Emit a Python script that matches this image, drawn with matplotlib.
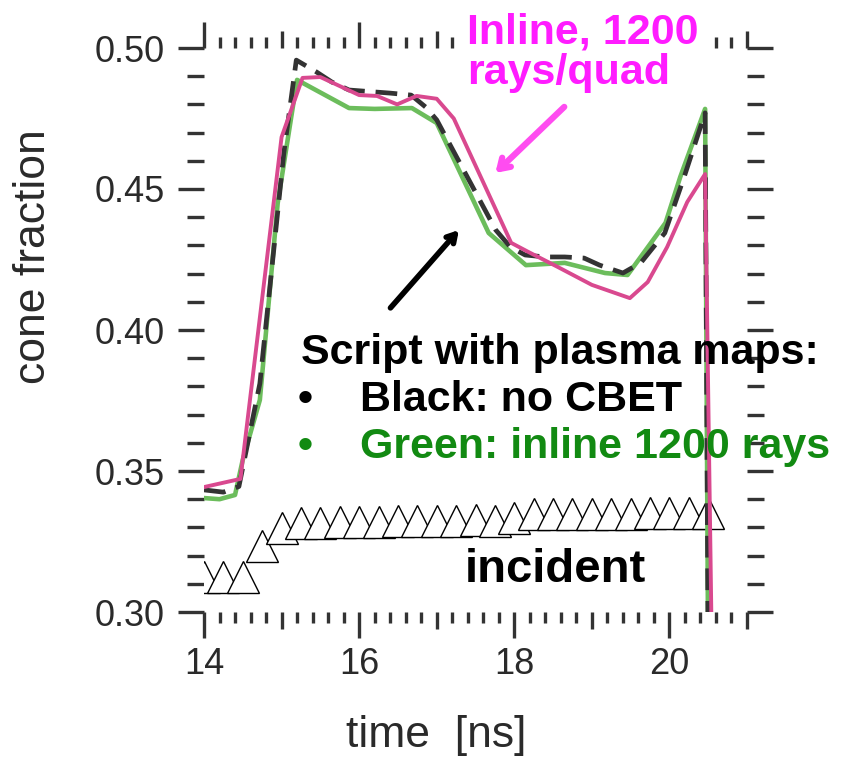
import matplotlib
matplotlib.use('Agg')
import matplotlib.pyplot as plt
from matplotlib.ticker import FixedLocator, FuncFormatter

plt.rcParams['font.family'] = ['Liberation Sans', 'DejaVu Sans']

# incident (open triangles)
inc_t = [14.0, 14.25, 14.5, 14.75, 15.0, 15.25, 15.5, 15.75, 16.0, 16.25, 16.5, 16.75, 17.0,
         17.25, 17.5, 17.75, 18.0, 18.25, 18.5, 18.75, 19.0, 19.25, 19.5, 19.75, 20.0, 20.25, 20.5]
inc_y = [0.3124, 0.3124, 0.3124, 0.3234, 0.3297, 0.3314, 0.3317, 0.3318, 0.3319, 0.3320, 0.3321,
         0.3322, 0.3323, 0.3324, 0.3325, 0.3322, 0.3335, 0.3348, 0.3348, 0.3348, 0.3349, 0.3349,
         0.3349, 0.3350, 0.3350, 0.3350, 0.3350]

# black dashed: no CBET
black_t = [14.0, 14.25, 14.45, 14.72, 15.03, 15.19, 15.45, 15.65, 15.87, 16.4, 16.67, 16.86, 17.0,
           17.76, 17.95, 18.14, 18.4, 18.65, 18.9, 19.1, 19.4, 19.63, 19.94, 20.19, 20.46, 20.5]
black_y = [0.3433, 0.3425, 0.3445, 0.3810, 0.4630, 0.4957, 0.4915, 0.4879, 0.4851, 0.4840, 0.4833,
           0.4790, 0.4745, 0.4355, 0.4294, 0.4266, 0.4259, 0.4259, 0.4255, 0.4230, 0.4202, 0.4238,
           0.4344, 0.4543, 0.4770, 0.2800]

# green: inline 1200 rays
green_t = [14.0, 14.2, 14.4, 14.5, 14.72, 14.95, 15.2, 15.87, 16.2, 16.68, 17.0, 17.67, 18.15,
           18.65, 19.17, 19.46, 19.95, 20.14, 20.46, 20.5]
green_y = [0.3404, 0.3400, 0.3415, 0.3540, 0.3752, 0.4450, 0.4887, 0.4787, 0.4784, 0.4787, 0.4734,
           0.4344, 0.4230, 0.4238, 0.4202, 0.4195, 0.4380, 0.4543, 0.4784, 0.2800]

# pink: inline 1200 rays/quad
pink_t = [14.0, 14.47, 15.0, 15.27, 15.5, 16.0, 16.23, 16.49, 16.74, 17.0, 17.22, 17.96, 18.18,
          18.55, 19.0, 19.49, 19.72, 19.97, 20.23, 20.46, 20.55]
pink_y = [0.3443, 0.3472, 0.4684, 0.4894, 0.4897, 0.4833, 0.4830, 0.4800, 0.4830, 0.4820, 0.4750,
          0.4309, 0.4277, 0.4225, 0.4160, 0.4113, 0.4170, 0.4294, 0.4454, 0.4553, 0.2800]

x_major = [14, 15, 16, 17, 18, 19, 20, 21]
y_major = [0.30, 0.35, 0.40, 0.45, 0.50]

W, H = 844, 763
fig = plt.figure(figsize=(W / 100, H / 100), dpi=100)
ax = fig.add_axes([204 / W, 1 - 612 / H, (747 - 204) / W, (612 - 48) / H])


def fx(px):
    return px / W


def fy(py):
    return 1 - py / H


ax.plot(inc_t, inc_y, ls='none', marker='^', ms=23, mfc='white', mec='black', mew=1.0, zorder=2)
ax.plot(green_t, green_y, color='#6cbd5c', lw=3.3, zorder=3)
ax.plot(black_t, black_y, color='#333333', lw=3.4, dashes=(4.6, 2.3), zorder=4)
ax.plot(pink_t, pink_y, color='#d9498f', lw=2.8, zorder=5)

ax.set_xlim(14, 21)
ax.set_ylim(0.30, 0.50)
for s in ax.spines.values():
    s.set_visible(False)

ax.xaxis.set_major_locator(FixedLocator(x_major))
ax.xaxis.set_minor_locator(FixedLocator([14 + 0.2 * i for i in range(36)]))
ax.xaxis.set_major_formatter(FuncFormatter(lambda v, p: '%d' % v if int(round(v)) % 2 == 0 else ''))
ax.yaxis.set_major_locator(FixedLocator(y_major))
ax.yaxis.set_minor_locator(FixedLocator([0.30 + 0.01 * i for i in range(21)]))
ax.yaxis.set_major_formatter(FuncFormatter(lambda v, p: '%.2f' % v))

tc = '#333333'
ax.tick_params(axis='x', which='major', direction='out', length=19, width=2.4, color=tc,
               top=True, bottom=True, pad=6, labelsize=26, labelcolor='#2a2a2a')
ax.tick_params(axis='x', which='minor', direction='out', length=8, width=2.4, color=tc,
               top=True, bottom=True)
ax.tick_params(axis='y', which='major', direction='out', length=19, width=2.4, color=tc,
               left=True, right=True, pad=9, labelsize=26, labelcolor='#2a2a2a')
ax.tick_params(axis='y', which='minor', direction='out', length=12, width=2.4, color=tc,
               left=True, right=True)

# odd integers get medium ticks
for t, v in zip(ax.xaxis.get_major_ticks(len(x_major)), x_major):
    if v % 2 == 1:
        t.tick1line.set_markersize(12)
        t.tick2line.set_markersize(12)

fig.text(fx(34), fy(257), 'cone fraction', rotation=90, ha='center', va='center',
         fontsize=32, color='#2a2a2a')
fig.text(fx(436), fy(736), 'time  [ns]', ha='center', va='center', fontsize=32, color='#2a2a2a')

mag = '#ff1cff'
fig.text(fx(467), fy(43), 'Inline, 1200', ha='left', va='baseline', fontsize=31,
         fontweight='bold', color=mag,
         bbox=dict(facecolor='white', edgecolor='none', pad=8))
fig.text(fx(467), fy(84), 'rays/quad', ha='left', va='baseline', fontsize=31,
         fontweight='bold', color=mag)
fig.text(fx(301), fy(364), 'Script with plasma maps:', ha='left', va='baseline', fontsize=31,
         fontweight='bold', color='black')
fig.text(fx(298), fy(411), '\u2022', ha='left', va='baseline', fontsize=31, fontweight='bold',
         color='black')
fig.text(fx(360), fy(411), 'Black: no CBET', ha='left', va='baseline', fontsize=31,
         fontweight='bold', color='black')
fig.text(fx(298), fy(458), '\u2022', ha='left', va='baseline', fontsize=31, fontweight='bold',
         color='#128a12')
fig.text(fx(360), fy(458), 'Green: inline 1200 rays', ha='left', va='baseline', fontsize=31,
         fontweight='bold', color='#128a12')
fig.text(fx(465), fy(582), 'incident', ha='left', va='baseline', fontsize=34,
         fontweight='bold', color='black')

ax.annotate('', xy=(17.31, 0.4362), xytext=(16.38, 0.4071),
            arrowprops=dict(arrowstyle='->,head_length=0.6,head_width=0.35', lw=4.0, color='black'))
ax.annotate('', xy=(17.73, 0.4550), xytext=(18.67, 0.4798),
            arrowprops=dict(arrowstyle='->,head_length=0.7,head_width=0.45', lw=4.5, color='#ff4cf0'))

fig.savefig('out.png', dpi=100)
